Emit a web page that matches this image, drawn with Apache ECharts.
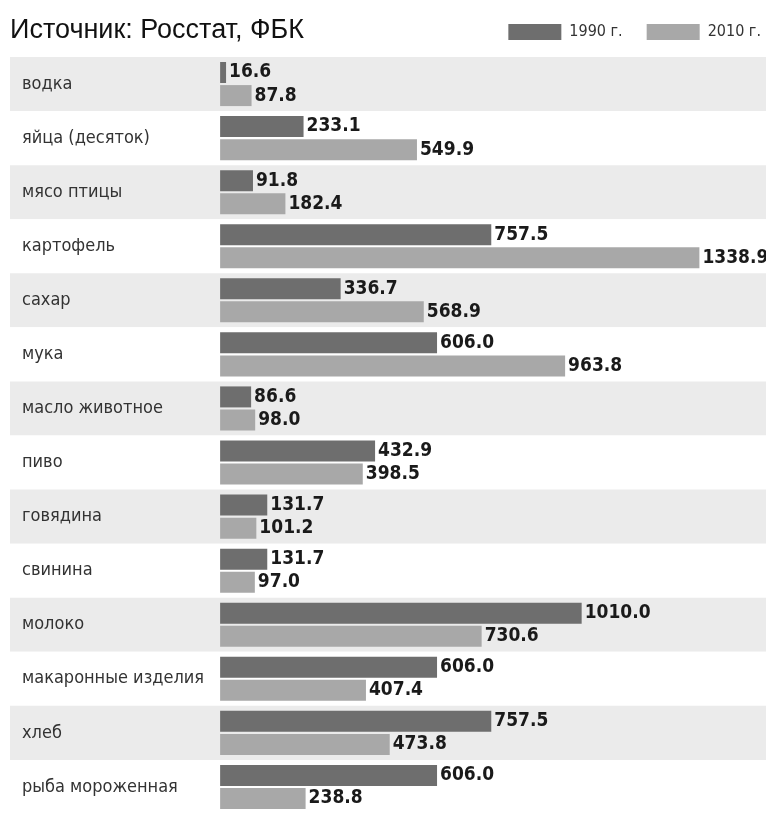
<!DOCTYPE html>
<html><head><meta charset="utf-8">
<script src="https://cdn.jsdelivr.net/npm/echarts@6/dist/echarts.min.js"></script>
<style>html,body{margin:0;padding:0;background:#fff}#c{width:766px;height:814px}</style>
</head><body><div id="c"></div>
<script>
const categories = ['водка','яйца (десяток)','мясо птицы','картофель','сахар','мука','масло животное','пиво','говядина','свинина','молоко','макаронные изделия','хлеб','рыба мороженная'];
const values1990 = [16.6,233.1,91.8,757.5,336.7,606.0,86.6,432.9,131.7,131.7,1010.0,606.0,757.5,606.0];
const values2010 = [87.8,549.9,182.4,1338.9,568.9,963.8,98.0,398.5,101.2,97.0,730.6,407.4,473.8,238.8];
const seriesNames = ['1990 г.','2010 г.'];
const titleText = 'Источник: Росстат, ФБК';

const narrow = "'Liberation Sans Narrow','DejaVu Sans Condensed','Arial Narrow',sans-serif";
const chart = echarts.init(document.getElementById('c'));
const labelStyle = {show:true, position:'right', distance:3, fontFamily:narrow, fontWeight:'bold', fontSize:19, color:'#1a1a1a', formatter:p=>p.value.toFixed(1)};
chart.setOption({
  animation:false,
  backgroundColor:'#fff',
  title:{text:titleText, left:5, top:12, textStyle:{fontFamily:"'Liberation Sans',Arial,sans-serif", fontWeight:'normal', fontSize:27, color:'#111'}},
  legend:{right:0, top:19, itemWidth:53, itemHeight:16, itemGap:24, icon:'rect', data:seriesNames,
    textStyle:{fontFamily:narrow, fontSize:16, color:'#333', padding:[0,0,0,3]}},
  grid:{left:10, right:0, top:57, bottom:-7},
  xAxis:{type:'value', min:-587, max:1525, show:false},
  yAxis:{type:'category', data:categories, inverse:true,
    axisLine:{show:false}, axisTick:{show:false},
    splitArea:{show:true, areaStyle:{color:['#ebebeb','#ffffff']}},
    axisLabel:{inside:true, margin:12, align:'left', fontFamily:narrow, fontSize:18, color:'#333'}},
  series:[
    {name:seriesNames[0], type:'bar', data:values1990, barWidth:21, barGap:'10%', itemStyle:{color:'#6e6e6e'}, label:labelStyle},
    {name:seriesNames[1], type:'bar', data:values2010, barWidth:21, barGap:'10%', itemStyle:{color:'#a8a8a8'}, label:labelStyle}
  ]
});
</script></body></html>
